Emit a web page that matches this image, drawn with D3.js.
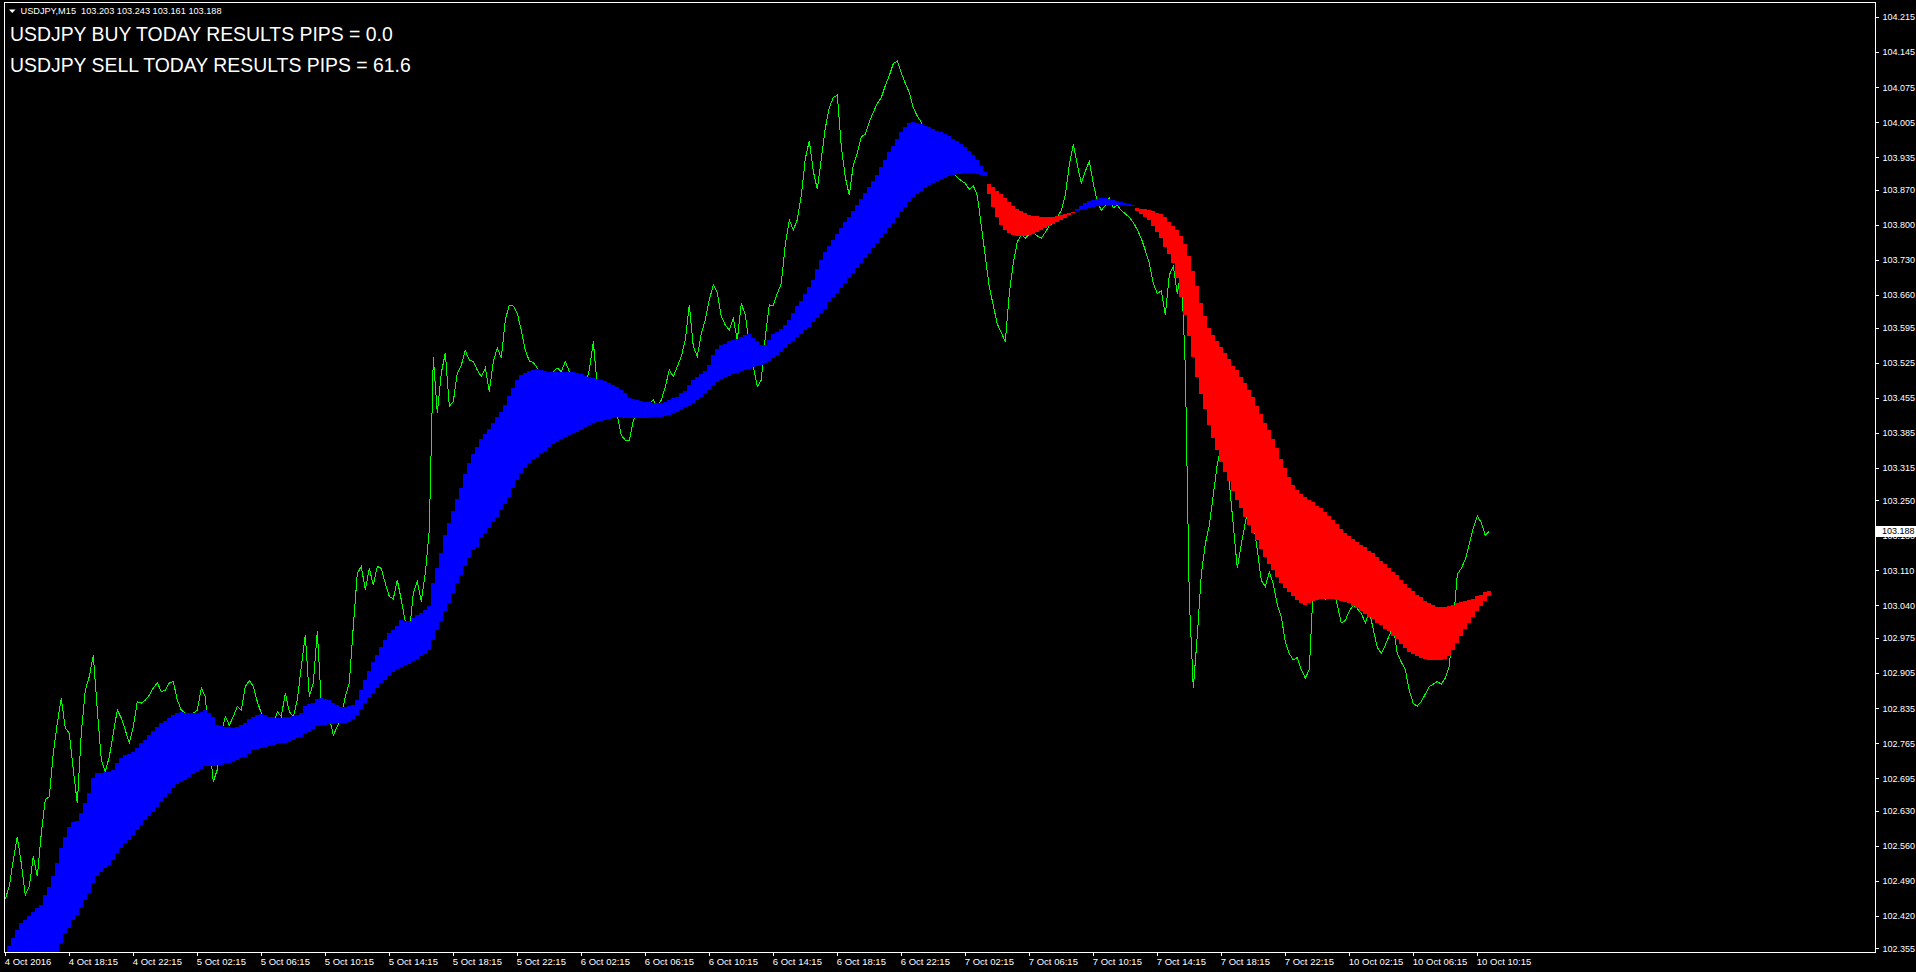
<!DOCTYPE html>
<html><head><meta charset="utf-8">
<script src="https://cdn.jsdelivr.net/npm/d3@7"></script>
<style>
html,body{margin:0;padding:0;background:#000;overflow:hidden;}
svg{display:block;}
</style></head><body>
<svg id="chart" width="1916" height="972"></svg>
<script>
// ---------- DATA (USDJPY M15) ----------
const closePrices = [
102.454,102.479,102.532,102.578,102.525,102.462,102.479,102.539,102.499,102.585,
102.652,102.658,102.745,102.805,102.855,102.795,102.785,102.712,102.645,102.785,
102.871,102.898,102.941,102.831,102.732,102.708,102.738,102.785,102.831,102.815,
102.791,102.765,102.798,102.848,102.845,102.851,102.861,102.875,102.886,102.868,
102.871,102.885,102.888,102.851,102.831,102.825,102.821,102.825,102.831,102.875,
102.858,102.765,102.688,102.712,102.785,102.818,102.801,102.818,102.838,102.831,
102.878,102.890,102.878,102.848,102.825,102.758,102.771,102.798,102.828,102.818,
102.865,102.828,102.818,102.851,102.918,102.981,102.858,102.885,102.988,102.845,
102.828,102.818,102.781,102.798,102.818,102.858,102.885,102.998,103.104,103.118,
103.071,103.114,103.081,103.118,103.114,103.084,103.058,103.053,103.091,103.051,
103.008,102.984,103.064,103.088,103.048,103.104,103.191,103.536,103.424,103.504,
103.544,103.438,103.447,103.504,103.520,103.549,103.530,103.527,103.510,103.497,
103.514,103.467,103.527,103.554,103.534,103.610,103.640,103.638,103.623,103.590,
103.550,103.528,103.525,103.514,103.490,103.477,103.490,103.507,103.514,103.507,
103.527,103.507,103.484,103.470,103.464,103.477,103.510,103.567,103.477,103.450,
103.444,103.437,103.430,103.420,103.380,103.370,103.370,103.410,103.424,103.430,
103.437,103.444,103.450,103.437,103.450,103.477,103.510,103.497,103.517,103.537,
103.570,103.640,103.557,103.537,103.583,103.610,103.650,103.680,103.665,103.617,
103.600,103.590,103.613,103.570,103.643,103.620,103.560,103.517,103.477,103.490,
103.577,103.640,103.639,103.663,103.683,103.761,103.810,103.790,103.810,103.859,
103.932,103.968,103.907,103.871,103.932,103.993,104.034,104.054,104.059,103.956,
103.895,103.859,103.920,103.944,103.976,103.981,104.005,104.025,104.042,104.054,
104.078,104.098,104.122,104.127,104.103,104.083,104.064,104.034,104.017,104.005,
103.986,103.976,103.961,103.944,103.937,103.927,103.912,103.903,103.895,103.888,
103.883,103.871,103.878,103.859,103.798,103.737,103.676,103.639,103.602,103.585,
103.566,103.663,103.724,103.766,103.781,103.773,103.781,103.785,103.778,103.773,
103.785,103.798,103.805,103.815,103.829,103.859,103.920,103.961,103.920,103.883,
103.907,103.927,103.883,103.846,103.829,103.839,103.854,103.834,103.839,103.829,
103.822,103.815,103.805,103.790,103.773,103.749,103.724,103.683,103.663,103.668,
103.620,103.700,103.717,103.663,103.712,103.517,103.053,102.875,102.980,103.102,
103.163,103.200,103.261,103.322,103.358,103.341,103.285,103.200,103.114,103.163,
103.205,103.249,103.205,103.151,103.090,103.078,103.107,103.083,103.041,103.017,
102.968,102.944,102.931,102.936,102.912,102.895,102.912,103.078,103.102,103.073,
103.053,103.066,103.078,103.041,103.005,103.010,103.029,103.041,103.034,103.024,
103.005,103.029,102.992,102.956,102.944,102.961,102.980,103.000,102.944,102.927,
102.912,102.870,102.844,102.839,102.848,102.863,102.878,102.883,102.888,102.883,
102.895,102.919,103.005,103.102,103.114,103.132,103.163,103.195,103.219,103.205,
103.180,103.188
];

const fastMA = [
102.345,102.359,102.375,102.392,102.405,102.412,102.419,102.427,102.435,102.442,
102.462,102.477,102.499,102.525,102.555,102.578,102.598,102.608,102.610,102.625,
102.645,102.666,102.695,102.705,102.706,102.707,102.707,102.712,102.725,102.735,
102.742,102.744,102.748,102.756,102.765,102.771,102.781,102.789,102.798,102.805,
102.810,102.815,102.821,102.826,102.828,102.826,102.826,102.826,102.826,102.828,
102.831,102.825,102.818,102.801,102.799,102.798,102.797,102.796,102.798,102.801,
102.806,102.813,102.818,102.821,102.823,102.821,102.818,102.817,102.815,102.815,
102.817,102.818,102.819,102.821,102.825,102.839,102.843,102.845,102.853,102.855,
102.853,102.851,102.846,102.841,102.838,102.838,102.839,102.841,102.851,102.871,
102.891,102.910,102.927,102.941,102.958,102.972,102.984,102.991,102.998,103.011,
103.008,103.009,103.014,103.021,103.024,103.031,103.039,103.084,103.114,103.144,
103.181,103.205,103.229,103.252,103.274,103.303,103.324,103.342,103.357,103.372,
103.382,103.392,103.404,103.417,103.427,103.440,103.458,103.474,103.490,103.500,
103.505,103.509,103.510,103.512,103.510,103.508,103.507,103.507,103.506,103.506,
103.506,103.507,103.506,103.504,103.502,103.498,103.496,103.494,103.492,103.490,
103.488,103.484,103.480,103.477,103.470,103.464,103.454,103.452,103.450,103.449,
103.447,103.446,103.445,103.444,103.444,103.447,103.450,103.454,103.457,103.464,
103.469,103.480,103.490,103.496,103.502,103.509,103.520,103.540,103.553,103.560,
103.563,103.569,103.571,103.573,103.577,103.580,103.583,103.575,103.569,103.560,
103.561,103.570,103.583,103.587,103.593,103.600,103.610,103.623,103.637,103.647,
103.662,103.676,103.690,103.712,103.730,103.745,103.758,103.770,103.782,103.793,
103.805,103.815,103.827,103.840,103.852,103.864,103.876,103.888,103.900,103.915,
103.930,103.945,103.958,103.972,103.985,103.996,104.003,104.005,104.004,104.001,
103.998,103.995,103.992,103.988,103.985,103.981,103.977,103.972,103.967,103.961,
103.955,103.948,103.940,103.930,103.918,103.905,103.862,103.835,103.815,103.800,
103.790,103.784,103.780,103.778,103.777,103.778,103.780,103.782,103.785,103.789,
103.793,103.797,103.801,103.805,103.810,103.814,103.819,103.824,103.832,103.838,
103.843,103.847,103.850,103.852,103.853,103.853,103.852,103.850,103.848,103.846,
103.844,103.842,103.839,103.828,103.822,103.816,103.810,103.798,103.785,103.773,
103.756,103.741,103.724,103.693,103.656,103.620,103.578,103.537,103.497,103.463,
103.432,103.400,103.375,103.351,103.327,103.307,103.288,103.268,103.251,103.234,
103.217,103.200,103.185,103.171,103.153,103.136,103.122,103.110,103.097,103.085,
103.075,103.066,103.058,103.051,103.044,103.041,103.044,103.049,103.051,103.053,
103.053,103.053,103.053,103.051,103.049,103.046,103.044,103.039,103.034,103.029,
103.022,103.017,103.012,103.005,103.000,102.992,102.988,102.980,102.973,102.963,
102.956,102.948,102.944,102.939,102.936,102.934,102.931,102.931,102.931,102.931,
102.934,102.939,102.951,102.966,102.980,102.992,103.005,103.017,103.029,103.039,
103.049,103.058
];

const slowMA = [
102.190,102.200,102.210,102.220,102.230,102.240,102.250,102.260,102.270,102.280,
102.290,102.300,102.315,102.335,102.365,102.385,102.395,102.412,102.422,102.435,
102.452,102.465,102.485,102.499,102.507,102.515,102.522,102.532,102.545,102.555,
102.565,102.572,102.582,102.592,102.602,102.612,102.620,102.628,102.638,102.648,
102.658,102.666,102.675,102.684,102.688,102.692,102.698,102.704,102.708,102.713,
102.720,102.720,102.720,102.722,102.722,102.725,102.726,102.728,102.732,102.735,
102.738,102.744,102.752,102.754,102.756,102.758,102.760,102.761,102.763,102.765,
102.766,102.768,102.771,102.775,102.778,102.785,102.788,102.793,102.799,102.801,
102.801,102.803,102.803,102.805,102.805,102.806,102.808,102.813,102.821,102.833,
102.845,102.855,102.865,102.875,102.885,102.891,102.899,102.908,102.913,102.918,
102.921,102.924,102.930,102.934,102.939,102.944,102.951,102.971,102.991,103.008,
103.028,103.044,103.064,103.084,103.101,103.118,103.134,103.151,103.157,103.174,
103.184,103.194,103.207,103.217,103.231,103.243,103.257,103.274,103.291,103.304,
103.314,103.324,103.332,103.337,103.344,103.349,103.357,103.362,103.367,103.372,
103.376,103.380,103.384,103.387,103.390,103.396,103.400,103.404,103.406,103.409,
103.411,103.413,103.414,103.416,103.416,103.415,103.414,103.414,103.414,103.414,
103.414,103.415,103.416,103.417,103.417,103.419,103.421,103.424,103.427,103.430,
103.436,103.438,103.444,103.450,103.456,103.464,103.470,103.478,103.487,103.492,
103.496,103.498,103.502,103.505,103.508,103.510,103.513,103.516,103.518,103.520,
103.524,103.529,103.534,103.540,103.547,103.555,103.562,103.569,103.577,103.583,
103.590,103.597,103.607,103.613,103.623,103.632,103.645,103.655,103.664,103.673,
103.683,103.693,103.703,103.713,103.723,103.733,103.743,103.753,103.763,103.773,
103.783,103.794,103.804,103.815,103.825,103.836,103.846,103.855,103.862,103.868,
103.874,103.879,103.884,103.888,103.891,103.894,103.897,103.899,103.901,103.902,
103.903,103.903,103.903,103.902,103.900,103.898,103.882,103.875,103.868,103.861,
103.853,103.845,103.838,103.832,103.827,103.823,103.820,103.818,103.817,103.816,
103.815,103.815,103.816,103.817,103.819,103.821,103.823,103.826,103.828,103.830,
103.832,103.834,103.836,103.837,103.838,103.839,103.840,103.840,103.840,103.840,
103.839,103.838,103.837,103.834,103.832,103.831,103.829,103.827,103.824,103.822,
103.815,103.805,103.798,103.790,103.778,103.761,103.737,103.707,103.678,103.644,
103.617,103.595,103.580,103.568,103.556,103.544,103.532,103.519,103.510,103.497,
103.485,103.471,103.456,103.439,103.422,103.405,103.390,103.373,103.354,103.332,
103.314,103.297,103.280,103.271,103.263,103.256,103.251,103.246,103.239,103.234,
103.227,103.219,103.210,103.202,103.193,103.185,103.178,103.173,103.166,103.161,
103.156,103.149,103.144,103.136,103.129,103.122,103.114,103.107,103.100,103.090,
103.083,103.075,103.068,103.061,103.056,103.049,103.044,103.041,103.036,103.036,
103.036,103.039,103.041,103.044,103.046,103.049,103.051,103.053,103.058,103.061,
103.066,103.068
];

const xTickBars = [0,16,32,48,64,80,96,112,128,144,160,176,192,208,224,240,256,272,288,304,320,336,352,368];
const xTickLabels = ["4 Oct 2016","4 Oct 18:15","4 Oct 22:15","5 Oct 02:15","5 Oct 06:15","5 Oct 10:15",
  "5 Oct 14:15","5 Oct 18:15","5 Oct 22:15","6 Oct 02:15","6 Oct 06:15","6 Oct 10:15","6 Oct 14:15",
  "6 Oct 18:15","6 Oct 22:15","7 Oct 02:15","7 Oct 06:15","7 Oct 10:15","7 Oct 14:15","7 Oct 18:15",
  "7 Oct 22:15","10 Oct 02:15","10 Oct 06:15","10 Oct 10:15"];
const yTickValues = [104.215,104.145,104.075,104.005,103.935,103.870,103.800,103.730,103.660,103.595,
  103.525,103.455,103.385,103.315,103.250,103.180,103.110,103.040,102.975,102.905,102.835,102.765,
  102.695,102.630,102.560,102.490,102.420,102.355];
const headerText = "USDJPY,M15  103.203 103.243 103.161 103.188";
const titleLines = ["USDJPY BUY TODAY RESULTS PIPS = 0.0", "USDJPY SELL TODAY RESULTS PIPS = 61.6"];
const lastPrice = 103.188;

// ---------- DRAW ----------
const FONT = "'Liberation Sans', Arial, sans-serif";
const svg = d3.select("#chart");
svg.append("rect").attr("width",1916).attr("height",972).attr("fill","#000");

const x = d3.scaleLinear().domain([0,368]).range([5.3,1477.3]);
const y = d3.scaleLinear().domain([102.348,104.245]).range([952,2]);

svg.append("defs").append("clipPath").attr("id","plotclip")
  .append("rect").attr("x",5).attr("y",3).attr("width",1870).attr("height",949);

const plot = svg.append("g").attr("clip-path","url(#plotclip)");

// price line (drawn under the band)
plot.append("path").datum(closePrices)
  .attr("d", d3.line().x((d,i)=>x(i)).y(d=>y(d)))
  .attr("fill","none").attr("stroke","#00ff00").attr("stroke-width",1)
  .attr("shape-rendering","crispEdges");

// MA band histogram
plot.selectAll("rect.band").data(fastMA).join("rect")
  .attr("class","band")
  .attr("x",(d,i)=>Math.round(x(i)-2.6))
  .attr("width",4)
  .attr("y",(d,i)=>Math.round(y(Math.max(d,slowMA[i]))))
  .attr("height",(d,i)=>Math.max(1, Math.round(y(Math.min(d,slowMA[i]))) - Math.round(y(Math.max(d,slowMA[i])))))
  .attr("fill",(d,i)=> d >= slowMA[i] ? "#0000ff" : "#ff0000")
  .attr("shape-rendering","crispEdges");

// frame
svg.append("rect").attr("x",4.5).attr("y",2.5).attr("width",1871).attr("height",950)
  .attr("fill","none").attr("stroke","#fff").attr("stroke-width",1).attr("shape-rendering","crispEdges");

// y axis
const yAxis = svg.append("g").attr("transform","translate(1875.5,0)")
  .call(d3.axisRight(y).tickValues(yTickValues).tickSize(3).tickPadding(4).tickFormat(d3.format(".3f")));
yAxis.select(".domain").remove();
yAxis.selectAll("line").attr("stroke","#fff").attr("shape-rendering","crispEdges");
yAxis.selectAll("text").attr("fill","#fff").style("font-family",FONT).style("font-size","9px");

// x axis
const xAxis = svg.append("g").attr("transform","translate(0,952.5)")
  .call(d3.axisBottom(x).tickValues(xTickBars).tickSize(3).tickPadding(3).tickFormat((d,i)=>xTickLabels[i]));
xAxis.select(".domain").remove();
xAxis.selectAll("line").attr("stroke","#fff").attr("shape-rendering","crispEdges");
xAxis.selectAll("text").attr("fill","#fff").attr("text-anchor","start").attr("dx","-1")
  .style("font-family",FONT).style("font-size","9.5px");

// current price label (covers the 103.180 grid label, as in the terminal)
const yp = y(lastPrice);
svg.append("rect").attr("x",1876).attr("y",Math.round(yp)-5).attr("width",40).attr("height",11).attr("fill","#fff");
svg.append("line").attr("x1",1875).attr("x2",1879).attr("y1",Math.round(yp)+0.5).attr("y2",Math.round(yp)+0.5).attr("stroke","#fff");
svg.append("text").attr("x",1882).attr("y",yp).attr("dy","0.35em").attr("fill","#000")
  .style("font-family",FONT).style("font-size","9px").text(d3.format(".3f")(lastPrice));

// header
svg.append("path").attr("d","M9,9.5 L15.5,9.5 L12.25,13 Z").attr("fill","#fff");
svg.append("text").attr("x",20.5).attr("y",14).attr("fill","#fff")
  .style("font-family",FONT).style("font-size","9.2px").attr("xml:space","preserve").style("white-space","pre")
  .text(headerText);

svg.selectAll("text.title").data(titleLines).join("text")
  .attr("class","title").attr("x",10).attr("y",(d,i)=>41 + i*30.5)
  .attr("fill","#fff").style("font-family",FONT).style("font-size","19.4px").text(d=>d);
</script>
</body></html>
